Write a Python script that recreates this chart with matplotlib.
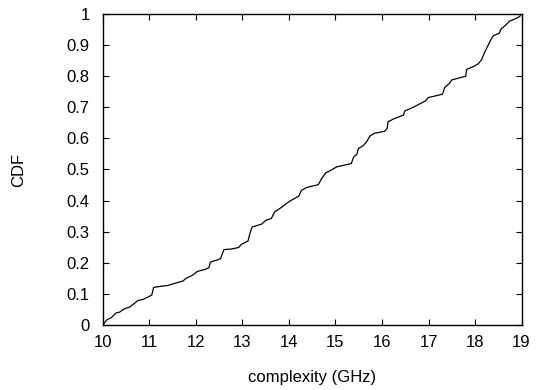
import numpy as np
import matplotlib
matplotlib.use('Agg')
import matplotlib.pyplot as plt

complexity = [10.0, 10.09, 10.18, 10.28, 10.36, 10.45, 10.57, 10.66, 10.75, 10.86,
              10.96, 11.05, 11.09, 11.15, 11.4, 11.58, 11.72, 11.79, 11.93, 12.03,
              12.19, 12.28, 12.31, 12.44, 12.53, 12.60, 12.76, 12.92, 12.97, 13.12,
              13.16, 13.21, 13.41, 13.51, 13.62, 13.69, 13.84, 13.94, 14.04, 14.21,
              14.27, 14.38, 14.63, 14.70, 14.79, 14.91, 15.02, 15.34, 15.39, 15.46,
              15.49, 15.59, 15.67, 15.74, 15.83, 16.06, 16.11, 16.13, 16.24, 16.46,
              16.49, 16.67, 16.94, 16.99, 17.30, 17.35, 17.45, 17.50, 17.80, 17.82,
              17.98, 18.07, 18.14, 18.21, 18.28, 18.35, 18.40, 18.52, 18.56, 18.65,
              18.74, 18.87, 18.96, 18.99]
cdf = [0.0, 0.017, 0.023, 0.038, 0.041, 0.051, 0.057, 0.067, 0.078, 0.082,
       0.089, 0.096, 0.12, 0.122, 0.127, 0.135, 0.141, 0.15, 0.16, 0.172,
       0.178, 0.184, 0.202, 0.208, 0.213, 0.242, 0.244, 0.249, 0.258, 0.27,
       0.294, 0.315, 0.324, 0.337, 0.342, 0.363, 0.378, 0.39, 0.40, 0.414,
       0.433, 0.442, 0.451, 0.47, 0.489, 0.498, 0.508, 0.519, 0.54, 0.549,
       0.567, 0.576, 0.589, 0.607, 0.616, 0.623, 0.632, 0.653, 0.662, 0.675,
       0.688, 0.70, 0.721, 0.731, 0.742, 0.764, 0.777, 0.788, 0.80, 0.822,
       0.832, 0.84, 0.853, 0.878, 0.899, 0.92, 0.931, 0.938, 0.952, 0.963,
       0.977, 0.985, 0.992, 1.0]

xticks = np.arange(10, 20, 1)
yticks = np.round(np.arange(0, 1.01, 0.1), 1)

plt.rcParams['font.family'] = ['Liberation Sans', 'DejaVu Sans']
plt.rcParams['font.size'] = 12

fig = plt.figure(figsize=(5.36, 3.9), dpi=100)
ax = fig.add_axes([0.192, 0.167, 0.781, 0.797])
ax.plot(complexity, cdf, color='black', linewidth=0.9)

ax.set_xlim(10, 19)
ax.set_ylim(0, 1)
ax.set_xticks(xticks)
ax.set_yticks(yticks)
ax.set_yticklabels([f'{v:g}' for v in yticks])
ax.tick_params(direction='in', length=4, width=0.8, top=True, right=True)
ax.tick_params(axis='x', pad=7)
ax.tick_params(axis='y', pad=9.5)
for s in ax.spines.values():
    s.set_linewidth(1.0)

ax.set_xlabel('complexity (GHz)', labelpad=15)
ax.set_ylabel('CDF', labelpad=29)

fig.savefig('out.png', dpi=100)
